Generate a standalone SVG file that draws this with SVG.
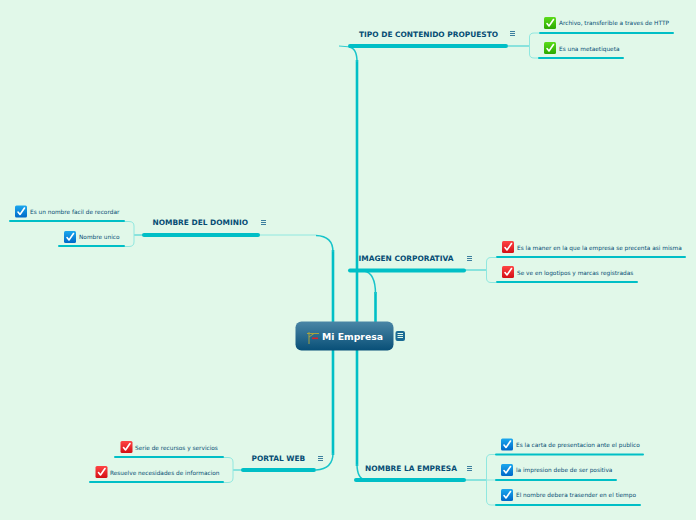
<svg xmlns="http://www.w3.org/2000/svg" width="696" height="520" viewBox="0 0 696 520">
<style>
.t{font-family:"DejaVu Sans",sans-serif;font-weight:700;font-size:7.45px;fill:#064d74}
.l{font-family:"DejaVu Sans",sans-serif;font-size:5.8px;fill:#064d74}
.bar{stroke:#00bfc6;stroke-width:4;stroke-linecap:round;fill:none}
.sub{stroke:#00bfc6;stroke-width:2;stroke-linecap:round;fill:none}
.trunk{stroke:#00bfc6;stroke-width:2.6;fill:none}
.curve{stroke:#18c4ca;stroke-width:1.5;fill:none}
.thin{stroke:#30cdd0;stroke-width:1;fill:none}
.brace{stroke:#90e8e0;stroke-width:1;fill:none}
.m{stroke:#3d7f9f;stroke-width:1}
.ck{fill:none;stroke:#fff;stroke-width:1.6;stroke-linecap:round;stroke-linejoin:round}
</style>
<defs>
<linearGradient id="gc" x1="0" y1="0" x2="0" y2="1"><stop offset="0" stop-color="#4a86a6"/><stop offset="1" stop-color="#084f77"/></linearGradient>
<linearGradient id="gg" x1="0" y1="0" x2="0" y2="1"><stop offset="0" stop-color="#5bdc1a"/><stop offset="1" stop-color="#2aa800"/></linearGradient>
<linearGradient id="gr" x1="0" y1="0" x2="0" y2="1"><stop offset="0" stop-color="#f44"/><stop offset="1" stop-color="#d40f14"/></linearGradient>
<linearGradient id="gb" x1="0" y1="0" x2="0" y2="1"><stop offset="0" stop-color="#1ba8ee"/><stop offset="1" stop-color="#0068c8"/></linearGradient>
<g id="ck"><path class="ck" d="M3 6.5 L5 9 L9.5 2.5"/></g>
<g id="menu"><path class="m" d="M0 .5H5M0 2.500H5M0 4.500H5"/></g>
</defs>
<rect width="696" height="520" fill="#e1f8e9"/>
<g id="connectors">
<path class="thin" d="M339 46L351 47"/>
<path class="trunk" d="M357 60V322M357 350V466"/>
<path class="curve" d="M349 47Q357 48 357 62M357 464Q357 479 366 480"/>
<path class="trunk" d="M333 322V250M333 350V455"/>
<path class="curve" d="M333 252Q333 236 316 235.500M333 453Q333 469 316 470"/>
<path class="trunk" d="M375.500 322V292"/>
<path class="curve" d="M375.500 294Q375.500 273 364 271"/>
<path class="brace" stroke-width="1.500" d="M259 235H316"/>
<path class="thin" d="M508 46H529M134 235H143M465 270H486M233 470H243M465 480H486"/>
<path class="brace" d="M539 33H534Q529.500 33 529.500 37V54Q529.500 58 534 58H539"/>
<path class="brace" d="M124 221.500H129Q134 221.500 134 226V242Q134 246.500 129 246.500H124"/>
<path class="brace" d="M496 257.500H491Q486.500 257.500 486.500 262V278Q486.500 282.500 491 282.500H496"/>
<path class="brace" d="M223 457.500H228Q233 457.500 233 462V478Q233 482.500 228 482.500H223"/>
<path class="brace" d="M496 454.500H491Q486.500 454.500 486.500 459V500Q486.500 505 491 505H496M486.500 480H496"/>
</g>
<g id="center">
<rect x="295.500" y="321.500" width="98" height="29" rx="6" fill="url(#gc)"/>
<path d="M309 332V344M307 333.500H319M309 337L314 333.500" stroke="#a8a23c" stroke-width="1" fill="none"/>
<rect x="312" y="337.500" width="6" height="1.600" fill="#d8232a"/>
<text x="322" y="340" font-family="DejaVu Sans,sans-serif" font-weight="700" font-size="9.300" fill="#fff">Mi Empresa</text>
<rect x="395.500" y="331" width="9.500" height="10" rx="2" fill="#1a6a94"/>
<path d="M397.500 333.500H403M397.500 335.500H403M397.500 337.500H403" stroke="#e1f8e9" stroke-width="1"/>
</g>
<g id="n-tipo">
<path class="bar" d="M350 46H506"/>
<text class="t" x="359" y="37">TIPO DE CONTENIDO PROPUESTO</text>
<use href="#menu" x="510" y="31"/>
</g>
<g id="n-tipo-1">
<path class="sub" d="M540 33H673"/>
<rect x="544" y="17" width="12" height="12" rx="1.500" fill="url(#gg)"/><use href="#ck" x="544" y="17"/>
<text class="l" x="559" y="25">Archivo, transferible a traves de HTTP</text>
</g>
<g id="n-tipo-2">
<path class="sub" d="M539 58H623"/>
<rect x="544" y="42" width="12" height="12" rx="1.500" fill="url(#gg)"/><use href="#ck" x="544" y="42"/>
<text class="l" x="559" y="51">Es una metaetiqueta</text>
</g>
<g id="n-dominio">
<path class="bar" d="M144 235H258"/>
<text class="t" x="152.500" y="225">NOMBRE DEL DOMINIO</text>
<use href="#menu" x="261" y="220"/>
</g>
<g id="n-dominio-1">
<path class="sub" d="M10 221H124"/>
<rect x="15" y="205.500" width="12" height="12" rx="1.500" fill="url(#gb)"/><use href="#ck" x="15" y="205.500"/>
<text class="l" x="30" y="214">Es un nombre facil de recordar</text>
</g>
<g id="n-dominio-2">
<path class="sub" d="M59 246H124"/>
<rect x="64" y="231" width="12" height="12" rx="1.500" fill="url(#gb)"/><use href="#ck" x="64" y="231"/>
<text class="l" x="79" y="239">Nombre unico</text>
</g>
<g id="n-imagen">
<path class="bar" d="M350 270.500H464"/>
<text class="t" x="358.500" y="261">IMAGEN CORPORATIVA</text>
<use href="#menu" x="467" y="256"/>
</g>
<g id="n-imagen-1">
<path class="sub" d="M497 257H685"/>
<rect x="502" y="241" width="12" height="12" rx="1.500" fill="url(#gr)"/><use href="#ck" x="502" y="241"/>
<text class="l" x="517" y="250">Es la maner en la que la empresa se precenta asi misma</text>
</g>
<g id="n-imagen-2">
<path class="sub" d="M497 282H637"/>
<rect x="502" y="266" width="12" height="12" rx="1.500" fill="url(#gr)"/><use href="#ck" x="502" y="266"/>
<text class="l" x="517" y="275">Se ve en logotipos y marcas registradas</text>
</g>
<g id="n-portal">
<path class="bar" d="M243 470H314"/>
<text class="t" x="251.500" y="461">PORTAL WEB</text>
<use href="#menu" x="318" y="456"/>
</g>
<g id="n-portal-1">
<path class="sub" d="M115 457H223"/>
<rect x="120.500" y="441" width="12" height="12" rx="1.500" fill="url(#gr)"/><use href="#ck" x="120.500" y="441"/>
<text class="l" x="135" y="450">Serie de recursos y servicios</text>
</g>
<g id="n-portal-2">
<path class="sub" d="M90 482H223"/>
<rect x="95.500" y="466" width="12" height="12" rx="1.500" fill="url(#gr)"/><use href="#ck" x="95.500" y="466"/>
<text class="l" x="110" y="475">Resuelve necesidades de informacion</text>
</g>
<g id="n-empresa">
<path class="bar" d="M356 480H464"/>
<text class="t" x="365" y="471">NOMBRE LA EMPRESA</text>
<use href="#menu" x="467" y="466"/>
</g>
<g id="n-empresa-1">
<path class="sub" d="M496 454.500H643"/>
<rect x="501" y="438.500" width="12" height="12" rx="1.500" fill="url(#gb)"/><use href="#ck" x="501" y="438.500"/>
<text class="l" x="516" y="447">Es la carta de presentacion ante el publico</text>
</g>
<g id="n-empresa-2">
<path class="sub" d="M496 480H616"/>
<rect x="501" y="464" width="12" height="12" rx="1.500" fill="url(#gb)"/><use href="#ck" x="501" y="464"/>
<text class="l" x="516" y="472">la impresion debe de ser positiva</text>
</g>
<g id="n-empresa-3">
<path class="sub" d="M496 505H640"/>
<rect x="501" y="489" width="12" height="12" rx="1.500" fill="url(#gb)"/><use href="#ck" x="501" y="489"/>
<text class="l" x="516" y="497">El nombre debera trasender en el tiempo</text>
</g>
</svg>
